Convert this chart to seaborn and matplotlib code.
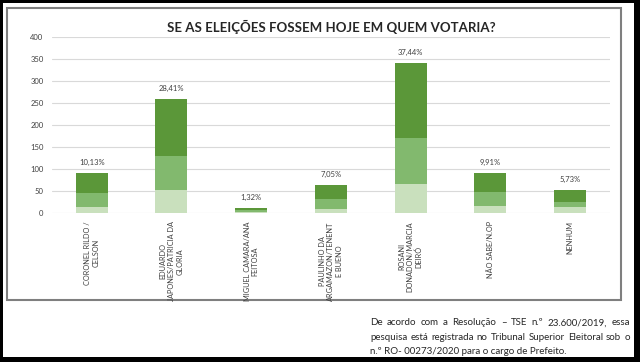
import pandas as pd
import matplotlib.pyplot as plt
import matplotlib.patches as patches
import seaborn as sns

# candidates and votes (three stacked parts per bar)
candidates = ["CORONEL RILDO /\nCELSON",
              "EDUARDO\nJAPONES/PATRICIA DA\nGLORIA",
              "MIGUEL CAMARA/ANA\nFEITOSA",
              "PAULINHO DA\nARGAMAZON/TENENT\nE BUENO",
              "ROSANI\nDONADON/MARCIA\nDEIRÓ",
              "NÃO SABE/N.OP",
              "NENHUM"]
part_light = [14, 53, 3, 9, 66, 17, 14]
part_mid = [32, 77, 4, 23, 104, 30, 12]
part_dark = [46, 128, 5, 32, 170, 43, 26]
pct_labels = ["10,13%", "28,41%", "1,32%", "7,05%", "37,44%", "9,91%", "5,73%"]
yticks = [0, 50, 100, 150, 200, 250, 300, 350, 400]

df = pd.DataFrame({"candidate": candidates, "light": part_light,
                   "mid": part_mid, "dark": part_dark})
df["base_dark"] = df["light"] + df["mid"]
df["total"] = df["base_dark"] + df["dark"]

sns.set_style("white")
plt.rcParams['font.family'] = ['Lato', 'DejaVu Sans']

fig = plt.figure(figsize=(6.4, 3.62), dpi=100, facecolor="black")
# white page + grey chart frame
fig.patches.append(patches.Rectangle((0.0047, 0.0138), 0.986, 0.978, transform=fig.transFigure,
                                     facecolor="white", edgecolor="none", zorder=0))
fig.patches.append(patches.Rectangle((0.011, 0.171), 0.959, 0.807, transform=fig.transFigure,
                                     facecolor="none", edgecolor="#7f7f7f", lw=1.5, zorder=1))

ax = fig.add_axes([0.081, 0.4116, 0.872, 0.4864])
ax.set_zorder(5)
ax.set_facecolor("none")

w = 0.4
bar_kw = dict(width=w, ax=ax, saturation=1, edgecolor="none", linewidth=0)
sns.barplot(data=df, x="candidate", y="light", color="#c9e0bd", **bar_kw)
sns.barplot(data=df, x="candidate", y="mid", bottom=df["light"], color="#82b96e", **bar_kw)
sns.barplot(data=df, x="candidate", y="dark", bottom=df["base_dark"], color="#5b9739", **bar_kw)

for i, (t, lab) in enumerate(zip(df["total"], pct_labels)):
    ax.annotate(lab, (i, t), xytext=(0, 5), textcoords="offset points",
                ha="center", va="bottom", fontsize=5.5, color="#404040")

ax.set_ylim(0, 400)
ax.set_xlim(-0.5, len(candidates) - 0.5)
ax.set_yticks(yticks)
ax.set_yticklabels([str(v) for v in yticks], fontsize=5.5, color="#404040")
ax.yaxis.grid(True, color="#d9d9d9", lw=0.8)
ax.set_axisbelow(True)
for s in ax.spines.values():
    s.set_visible(False)
ax.tick_params(axis="both", length=0, pad=6)
ax.set_xticks(range(len(candidates)))
ax.set_xticklabels(candidates, rotation=90, fontsize=5.3, color="#404040",
                   ha="center", va="top", multialignment="center")
ax.set_xlabel("")
ax.set_ylabel("")

fig.text(0.517, 0.925, "SE AS ELEIÇÕES FOSSEM HOJE EM QUEM VOTARIA?", ha="center", va="center",
         fontsize=9.5, fontweight="bold", color="#262626", zorder=6)

# footer, justified between x0 and x1 (last line left aligned)
footer = ["De acordo com a Resolução – TSE n.º 23.600/2019, essa",
          "pesquisa está registrada no Tribunal Superior Eleitoral sob o",
          "n.º RO- 00273/2020 para o cargo de Prefeito."]
x0, x1 = 0.578, 0.984
renderer = fig.canvas.get_renderer()
for k, line in enumerate(footer):
    y = 0.108 - k * 0.039
    if k == len(footer) - 1:
        fig.text(x0, y, line, ha="left", va="center", fontsize=7, color="#262626", zorder=6)
        continue
    words = line.split(" ")
    items = [fig.text(0, y, wd, ha="left", va="center", fontsize=7, color="#262626", zorder=6)
             for wd in words]
    widths = [it.get_window_extent(renderer).width / fig.bbox.width for it in items]
    gap = (x1 - x0 - sum(widths)) / (len(words) - 1)
    x = x0
    for it, wd in zip(items, widths):
        it.set_x(x)
        x += wd + gap

plt.savefig("out.png", dpi=100, facecolor="black")
plt.close()
